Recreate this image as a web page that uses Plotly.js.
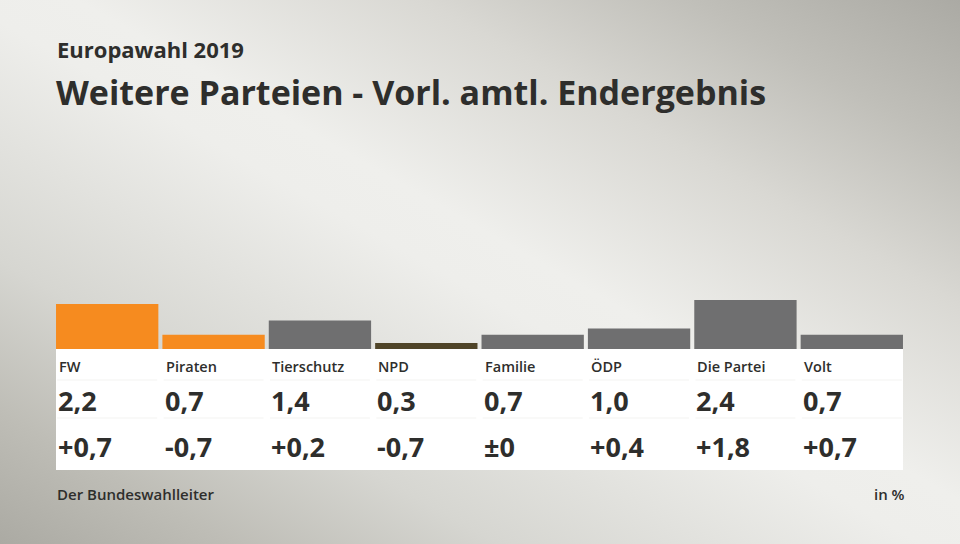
<!DOCTYPE html>
<html>
<head>
<meta charset="utf-8">
<script src="https://cdn.plot.ly/plotly-3.0.1.min.js"></script>
<style>
  html, body { margin: 0; padding: 0; }
  #wrap {
    width: 960px; height: 544px;
    background: linear-gradient(to top right, #abaaa3 0%, #bebdb6 12%, #d6d6d1 26%, #eeeeeb 48%, #efefec 54%, #d9d8d3 72%, #c0bfb9 86%, #abaaa4 100%);
  }
  #chart { width: 960px; height: 544px; }
</style>
</head>
<body>
<div id="wrap"><div id="chart"></div></div>
<script>
const parties = ["FW", "Piraten", "Tierschutz", "NPD", "Familie", "ÖDP", "Die Partei", "Volt"];
const values = [2.2, 0.7, 1.4, 0.3, 0.7, 1.0, 2.4, 0.7];
const valueLabels = ["2,2", "0,7", "1,4", "0,3", "0,7", "1,0", "2,4", "0,7"];
const changeLabels = ["+0,7", "-0,7", "+0,2", "-0,7", "±0", "+0,4", "+1,8", "+0,7"];
const colors = ["#f68b1f", "#f68b1f", "#6f6f70", "#4f4428", "#6f6f70", "#6f6f70", "#6f6f70", "#6f6f70"];

const FONT = "'Open Sans', 'Noto Sans', sans-serif";
const TXT = "#2e2e2c";

const annotations = [];
parties.forEach((p, i) => {
  annotations.push({x: p, xref: "x", y: 0, yref: "y", xanchor: "left", yanchor: "middle",
    xshift: -50, yshift: -17, text: p, showarrow: false,
    font: {family: FONT, size: 14.5, color: TXT, weight: 600}});
  annotations.push({x: p, xref: "x", y: 0, yref: "y", xanchor: "left", yanchor: "middle",
    xshift: -51, yshift: -51, text: valueLabels[i], showarrow: false,
    font: {family: FONT, size: 27, color: TXT, weight: 700}});
  annotations.push({x: p, xref: "x", y: 0, yref: "y", xanchor: "left", yanchor: "middle",
    xshift: -51, yshift: -97, text: changeLabels[i], showarrow: false,
    font: {family: FONT, size: 27, color: TXT, weight: 700}});
});
// subtitle
annotations.push({xref: "paper", x: 0, yref: "paper", y: 1, xanchor: "left", yanchor: "middle",
  xshift: 1, yshift: 251, text: "Europawahl 2019", showarrow: false,
  font: {family: FONT, size: 22, color: TXT, weight: 700}});
// footer
annotations.push({xref: "paper", x: 0, yref: "paper", y: 0, xanchor: "left", yanchor: "middle",
  xshift: 1, yshift: -145, text: "Der Bundeswahlleiter", showarrow: false,
  font: {family: FONT, size: 15, color: TXT, weight: 600}});
annotations.push({xref: "paper", x: 1, yref: "paper", y: 0, xanchor: "right", yanchor: "middle",
  xshift: 2, yshift: -145, text: "in %", showarrow: false,
  font: {family: FONT, size: 15, color: TXT, weight: 600}});

const PW = 851;
const shapes = [
  {type: "rect", xref: "paper", x0: 2 / PW, x1: 1 - 2 / PW, yref: "paper", ysizemode: "pixel", yanchor: 0,
   y0: 0, y1: -121, fillcolor: "#ffffff", line: {width: 0}, layer: "below"}
];
parties.forEach((p, i) => {
  [-31, -69].forEach(off => {
    shapes.push({type: "line", xref: "paper", x0: (i + 0.03) / 8, x1: (i + 0.97) / 8,
      yref: "paper", ysizemode: "pixel", yanchor: 0,
      y0: off, y1: off, line: {color: "#f3f3f1", width: 1}, layer: "below"});
  });
});

const data = [{
  type: "bar", x: parties, y: values,
  marker: {color: colors, line: {width: 0}},
  hoverinfo: "skip"
}];

const layout = {
  width: 960, height: 544,
  margin: {l: 54, r: 55, t: 300, b: 195, pad: 0},
  paper_bgcolor: "rgba(0,0,0,0)",
  plot_bgcolor: "rgba(0,0,0,0)",
  bargap: 0.038,
  showlegend: false,
  title: {text: "Weitere Parteien - Vorl. amtl. Endergebnis",
    font: {family: FONT, size: 34, color: TXT, weight: 700},
    x: 56 / 960, xanchor: "left", xref: "container",
    y: 1 - 93 / 544, yanchor: "middle", yref: "container"},
  xaxis: {visible: false, showgrid: false, zeroline: false, fixedrange: true},
  yaxis: {visible: false, range: [0, 2.4], showgrid: false, zeroline: false, fixedrange: true},
  annotations: annotations,
  shapes: shapes
};

Plotly.newPlot("chart", data, layout, {staticPlot: true, displayModeBar: false});
</script>
</body>
</html>
